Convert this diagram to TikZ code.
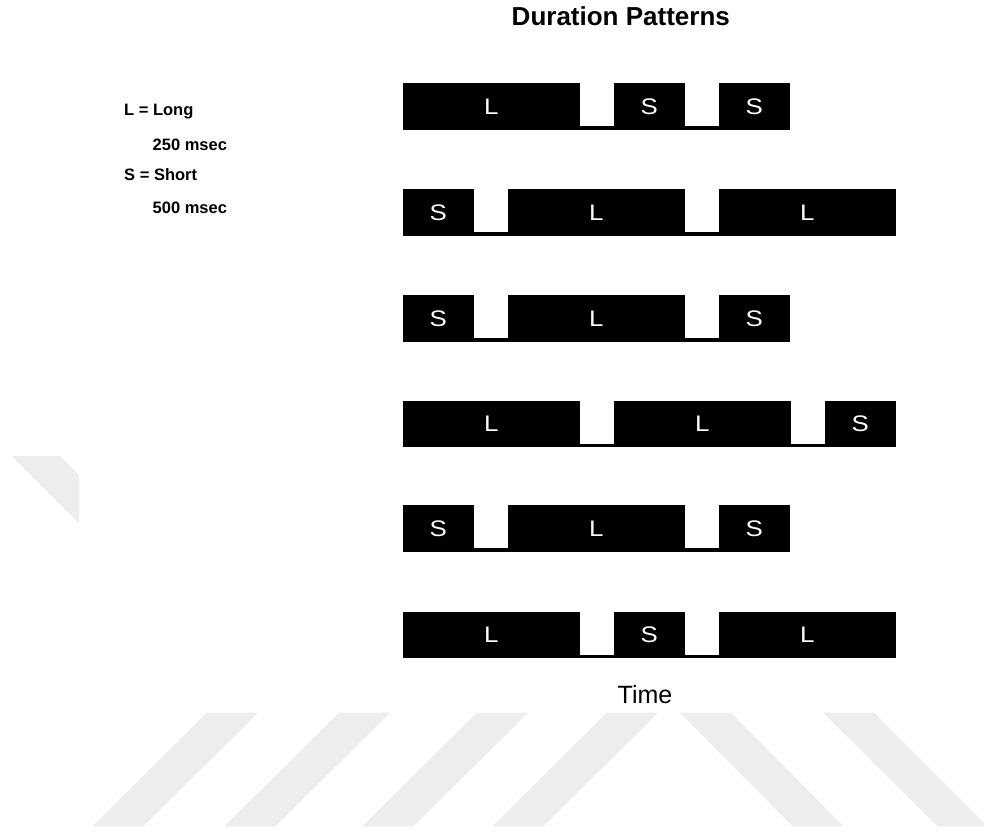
\documentclass[tikz,border=0pt]{standalone}
\usepackage{fontspec}
\usepackage{graphicx}
\setmainfont{Liberation Sans}
\tikzset{
  lbl/.style={text=white, inner sep=0pt, font=\fontsize{22.5}{26}\selectfont},
  legend/.style={anchor=base west, inner sep=0pt, font=\bfseries\fontsize{16.5}{20}\selectfont},
  wm/.style={fill=black!7, draw=none},
}
% \blk{name}{x}{width}{top}{label}
\newcommand{\blk}[5]{%
  \fill[black] (#2,#4) rectangle ++(#3,46.5);
  \node[lbl] (#1) at (#2+#3/2,#4+23.25) {\scalebox{1.15}[1]{#5}};
}
\newcommand{\strip}[2]{% top, end x
  \fill[black] (402.7,#1+43) rectangle (#2,#1+46.5);
}
\begin{document}
\begin{tikzpicture}[x=1pt,y=-1pt]
\useasboundingbox (0,0) rectangle (984,831);
% watermark
\fill[wm] (11.7,456) -- (60,456) -- (79,475) -- (79,523.3) -- cycle;
\fill[wm] (207,712.7) -- (258,712.7) -- (143,826.7) -- (92,826.7) -- cycle;
\fill[wm] (339,712.7) -- (390,712.7) -- (275,826.7) -- (224,826.7) -- cycle;
\fill[wm] (477,712.7) -- (528,712.7) -- (413,826.7) -- (362,826.7) -- cycle;
\fill[wm] (607,712.7) -- (658,712.7) -- (543,826.7) -- (492,826.7) -- cycle;
\fill[wm] (680,712.7) -- (731,712.7) -- (844,826.7) -- (793,826.7) -- cycle;
\fill[wm] (823,712.7) -- (874,712.7) -- (984,822.7) -- (984,826.7) -- (938,826.7) -- cycle;

% title
\node[anchor=base, inner sep=0pt, font=\bfseries\fontsize{26}{30}\selectfont] (title) at (620.8,25) {Duration Patterns};

% legend
\node[legend] (lg1) at (124,115.7) {L = Long};
\node[legend] (lg2) at (152.5,150) {250 msec};
\node[legend] (lg3) at (124,180) {S = Short};
\node[legend] (lg4) at (152.5,213.3) {500 msec};

% row 1: L S S
\strip{83.3}{789.7}
\blk{r1a}{402.7}{177}{83.3}{L}
\blk{r1b}{613.7}{71}{83.3}{S}
\blk{r1c}{718.7}{71}{83.3}{S}
% row 2: S L L
\strip{189.3}{895.7}
\blk{r2a}{402.7}{71}{189.3}{S}
\blk{r2b}{507.7}{177}{189.3}{L}
\blk{r2c}{718.7}{177}{189.3}{L}
% row 3: S L S
\strip{295.3}{789.7}
\blk{r3a}{402.7}{71}{295.3}{S}
\blk{r3b}{507.7}{177}{295.3}{L}
\blk{r3c}{718.7}{71}{295.3}{S}
% row 4: L L S
\strip{400.7}{895.7}
\blk{r4a}{402.7}{177}{400.7}{L}
\blk{r4b}{613.7}{177}{400.7}{L}
\blk{r4c}{824.7}{71}{400.7}{S}
% row 5: S L S
\strip{505.3}{789.7}
\blk{r5a}{402.7}{71}{505.3}{S}
\blk{r5b}{507.7}{177}{505.3}{L}
\blk{r5c}{718.7}{71}{505.3}{S}
% row 6: L S L
\strip{611.7}{895.7}
\blk{r6a}{402.7}{177}{611.7}{L}
\blk{r6b}{613.7}{71}{611.7}{S}
\blk{r6c}{718.7}{177}{611.7}{L}

% axis label
\node[anchor=base, inner sep=0pt, font=\fontsize{25}{30}\selectfont] (time) at (645,703.3) {Time};
\end{tikzpicture}
\end{document}
